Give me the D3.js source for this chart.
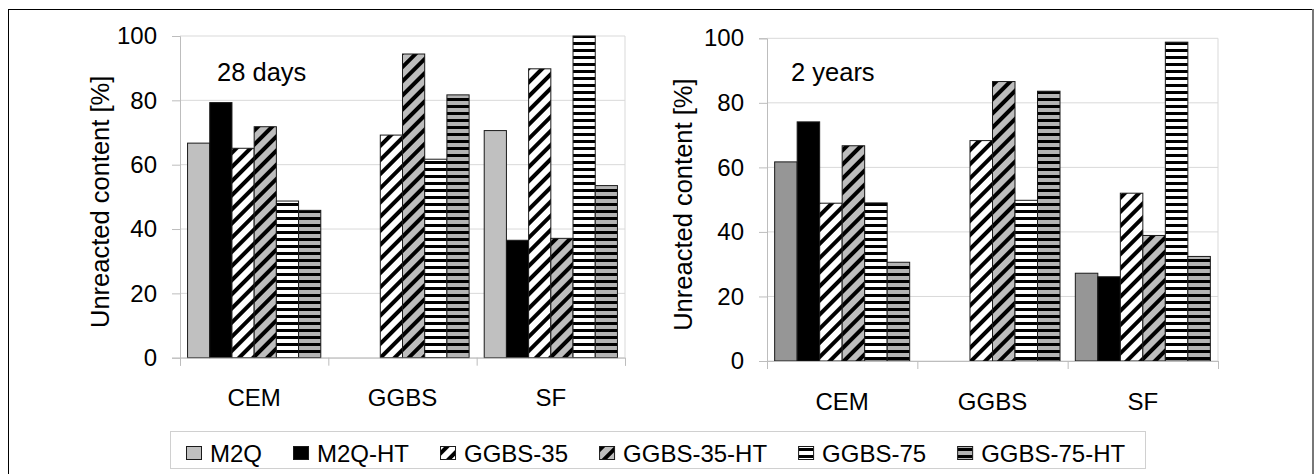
<!DOCTYPE html>
<html>
<head>
<meta charset="utf-8">
<script src="https://cdn.jsdelivr.net/npm/d3@7/dist/d3.min.js"></script>
<style>
  body { margin: 0; background: #fff; }
  svg { display: block; font-family: "Liberation Sans", Arial, sans-serif; }
</style>
</head>
<body>
<svg id="chart" width="1315" height="474"></svg>
<script>
// categories, series and tick labels
var categories = ["CEM", "GGBS", "SF"];
var seriesNames = ["M2Q", "M2Q-HT", "GGBS-35", "GGBS-35-HT", "GGBS-75", "GGBS-75-HT"];
var yTicks = [0, 20, 40, 60, 80, 100];
var panelTitles = ["28 days", "2 years"];
var yLabel = "Unreacted content [%]";

// values per category, series order as above (null = no bar)
var cem28 = [66.7, 79.3, 65.1, 71.8, 48.7, 45.8];
var ggbs28 = [null, null, 69.2, 94.4, 61.7, 81.7];
var sf28 = [70.6, 36.5, 89.8, 37.1, 100, 53.5];
var cem2y = [61.7, 74.1, 48.9, 66.7, 49.0, 30.6];
var ggbs2y = [null, null, 68.3, 86.6, 49.8, 83.6];
var sf2y = [27.2, 26.1, 52.0, 38.9, 98.8, 32.4];

var svg = d3.select("#chart"),
    fontFamily = "'Liberation Sans', Arial, sans-serif",
    gridColor = "#d9d9d9";

// outer frame
svg.append("rect").attr("x", 8.5).attr("y", 9.5).attr("width", 1304).attr("height", 480)
    .attr("fill", "none").attr("stroke", "#000").attr("stroke-width", 1);
svg.append("line").attr("x1", 1313).attr("x2", 1313).attr("y1", 9).attr("y2", 474)
    .attr("stroke", "#777").attr("stroke-width", 2);

// hatch patterns
var defs = svg.append("defs");
function diagPattern(id, bg) {
    var p = defs.append("pattern").attr("id", id).attr("patternUnits", "userSpaceOnUse")
        .attr("width", 10).attr("height", 10).attr("patternTransform", "rotate(45)");
    p.append("rect").attr("width", 10).attr("height", 10).attr("fill", bg);
    p.append("rect").attr("width", 4).attr("height", 10).attr("fill", "#000");
}
function horPattern(id, bg) {
    var p = defs.append("pattern").attr("id", id).attr("patternUnits", "userSpaceOnUse")
        .attr("width", 8).attr("height", 7);
    p.append("rect").attr("width", 8).attr("height", 7).attr("fill", bg);
    p.append("rect").attr("width", 8).attr("height", 3).attr("fill", "#000");
}
diagPattern("diagW", "#fff");
diagPattern("diagG", "#bdbdbd");
horPattern("horW", "#fff");
horPattern("horG", "#b4b4b4");

function fillFor(i, m2qColor) {
    return [m2qColor, "#000", "url(#diagW)", "url(#diagG)", "url(#horW)", "url(#horG)"][i];
}

var panels = [
    {title: panelTitles[0], rows: [cem28, ggbs28, sf28], x: [180, 625], y: [357.7, 36],
     m2q: "#c0c0c0", titleX: 37, labelX: 100, catPad: 31},
    {title: panelTitles[1], rows: [cem2y, ggbs2y, sf2y], x: [767, 1218], y: [361, 38.3],
     m2q: "#969696", titleX: 24, labelX: 683, catPad: 32}
];

panels.forEach(function (p) {
    var x0 = d3.scaleBand().domain(categories).range(p.x),
        x1 = d3.scaleBand().domain(seriesNames).range([0, x0.bandwidth()]).paddingOuter(0.34),
        y = d3.scaleLinear().domain([0, 100]).range(p.y),
        edge = d3.scaleLinear().domain([0, categories.length]).range(p.x),
        g = svg.append("g");

    // gridlines
    g.selectAll(".grid").data(yTicks).enter().append("line")
        .attr("x1", p.x[0]).attr("x2", p.x[1])
        .attr("y1", function (d) { return y(d); }).attr("y2", function (d) { return y(d); })
        .attr("stroke", gridColor);
    g.append("line").attr("x1", p.x[1]).attr("x2", p.x[1]).attr("y1", y(100)).attr("y2", y(0))
        .attr("stroke", gridColor);

    // bars
    p.rows.forEach(function (row, ci) {
        g.selectAll(null).data(row.map(function (v, si) { return {v: v, s: si}; })
                .filter(function (d) { return d.v !== null; }))
            .enter().append("rect")
            .attr("x", function (d) { return x0(categories[ci]) + x1(seriesNames[d.s]); })
            .attr("y", function (d) { return y(d.v); })
            .attr("width", x1.bandwidth())
            .attr("height", function (d) { return y(0) - y(d.v); })
            .attr("fill", function (d) { return fillFor(d.s, p.m2q); })
            .attr("stroke", "#1a1a1a").attr("stroke-width", 1);
    });

    // y axis
    var ya = g.append("g").attr("transform", "translate(" + p.x[0] + ",0)")
        .call(d3.axisLeft(y).tickValues(yTicks).tickSize(8).tickPadding(15));
    ya.select(".domain").attr("stroke", "#bdbdbd");
    ya.selectAll(".tick line").attr("stroke", "#bdbdbd");
    ya.selectAll("text").attr("font-size", 24).attr("font-family", fontFamily).attr("fill", "#000");

    // x axis: boundary ticks and category labels
    var xe = g.append("g").attr("transform", "translate(0," + y(0) + ")")
        .call(d3.axisBottom(edge).tickValues(d3.range(categories.length + 1)).tickSize(8).tickFormat(""));
    xe.select(".domain").attr("stroke", "#bdbdbd");
    xe.selectAll(".tick line").attr("stroke", "#bdbdbd");
    var xl = g.append("g").attr("transform", "translate(0," + y(0) + ")")
        .call(d3.axisBottom(x0).tickSize(0).tickPadding(p.catPad));
    xl.select(".domain").remove();
    xl.selectAll("text").attr("font-size", 24).attr("font-family", fontFamily).attr("fill", "#000");

    // y label
    g.append("text")
        .attr("transform", "translate(" + p.labelX + "," + ((p.y[0] + p.y[1]) / 2 + 5) + ") rotate(-90)")
        .attr("text-anchor", "middle").attr("dominant-baseline", "central")
        .attr("font-size", 25.5).text(yLabel);

    // panel title
    g.append("text").attr("x", p.x[0] + p.titleX).attr("y", 80.5)
        .attr("font-size", 25.5).text(p.title);
});

// legend
var legend = svg.append("g");
legend.append("rect").attr("x", 170.5).attr("y", 431.5).attr("width", 975).attr("height", 37)
    .attr("fill", "#fff").attr("stroke", "#d0d0d0");
var lx = 186;
seriesNames.forEach(function (name, i) {
    legend.append("rect").attr("x", lx + 0.5).attr("y", 446.5).attr("width", 15).attr("height", 13)
        .attr("fill", fillFor(i, "#c0c0c0")).attr("stroke", "#1a1a1a");
    var t = legend.append("text").attr("x", lx + 24).attr("y", 461.5)
        .attr("font-size", 24).text(name);
    lx = lx + 24 + t.node().getComputedTextLength() + 31;
});
</script>
</body>
</html>
